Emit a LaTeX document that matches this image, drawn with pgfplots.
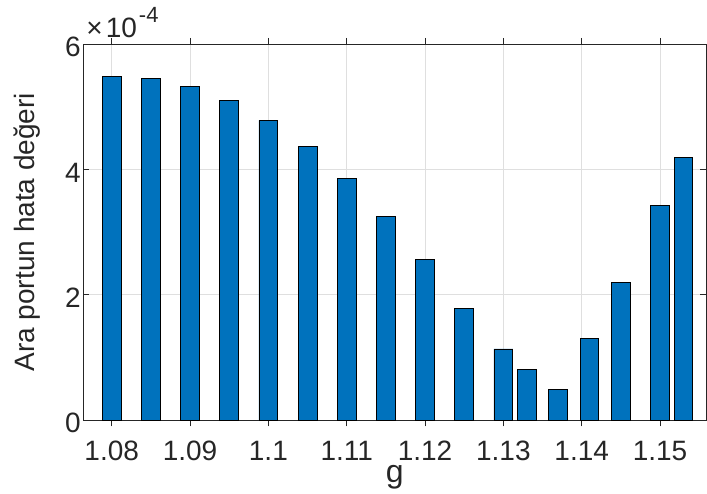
\documentclass[border=0pt]{standalone}
\usepackage{fontspec}
\setmainfont{Liberation Sans}
\usepackage{pgfplots}
\pgfplotsset{compat=1.18}
\definecolor{matblue}{RGB}{0,114,189}
\definecolor{axgray}{RGB}{38,38,38}
\definecolor{gridgray}{RGB}{223,223,223}
\begin{document}
\begin{tikzpicture}
\begin{axis}[
  at={(83.3pt,72.7pt)}, anchor=south west,
  scale only axis,
  width=622.7pt, height=376.3pt,
  xmin=1.07637, xmax=1.15587,
  ymin=0, ymax=6e-4,
  grid=major,
  grid style={gridgray, line width=0.8pt},
  axis line style={axgray, line width=0.9pt},
  tick align=inside,
  major tick length=6pt,
  tick style={axgray, line width=0.9pt},
  xtick={1.08,1.09,1.1,1.11,1.12,1.13,1.14,1.15},
  xticklabels={1.08,1.09,1.1,1.11,1.12,1.13,1.14,1.15},
  ytick={0,0.0002,0.0004,0.0006},
  scaled y ticks=base 10:4,
  scaled x ticks=false,
  ytick scale label code/.code={\fontsize{28}{32}\selectfont ×\hspace{3pt}10\hspace{2pt}\raisebox{15pt}{\fontsize{22}{25}\selectfont #1}},
  every y tick scale label/.style={at={(rel axis cs:0,1)}, anchor=base west, inner sep=0pt, xshift=2pt, yshift=9pt, text=axgray},
  /pgf/number format/assume math mode=true,
  tick label style={font=\fontsize{28}{28}\selectfont, text=axgray},
  xticklabel style={yshift=-11pt},
  yticklabel style={xshift=1pt, yshift=-3pt},
  xlabel={g},
  ylabel={Ara portun hata değeri},
  xlabel style={font=\fontsize{32}{32}\selectfont, text=axgray, at={(axis description cs:0.5,0)}, anchor=base, yshift=-62pt},
  ylabel style={font=\fontsize{28}{28}\selectfont, text=axgray, at={(axis description cs:-0.0776,0.5)}, anchor=base},
  ybar, bar width=0.0024,
]
\addplot[fill=matblue, draw=black, line width=0.9pt] coordinates {
(1.080,5.478e-4)
(1.085,5.447e-4)
(1.090,5.320e-4)
(1.095,5.096e-4)
(1.100,4.783e-4)
(1.105,4.362e-4)
(1.110,3.852e-4)
(1.115,3.252e-4)
(1.120,2.561e-4)
(1.125,1.786e-4)
(1.130,1.137e-4)
(1.133,0.807e-4)
(1.137,0.499e-4)
(1.141,1.301e-4)
(1.145,2.205e-4)
(1.150,3.422e-4)
(1.153,4.187e-4)
};
\end{axis}
\pgfresetboundingbox
\useasboundingbox (0,0) rectangle (707pt,493pt);
\end{tikzpicture}
\end{document}
